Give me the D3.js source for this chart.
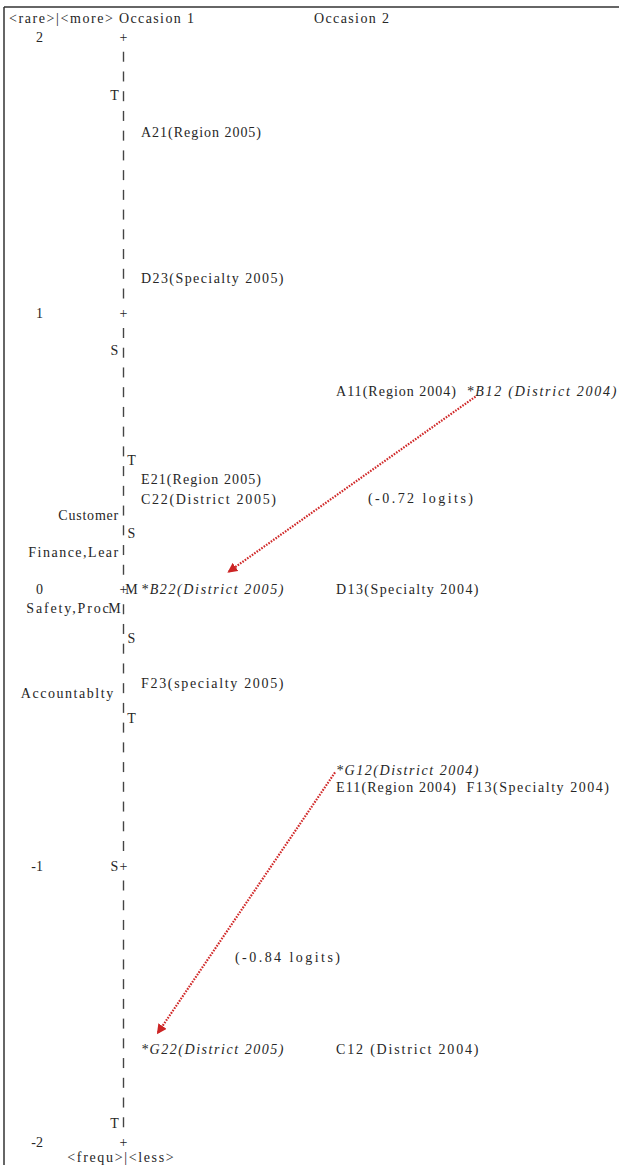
<!DOCTYPE html>
<html>
<head>
<meta charset="utf-8">
<script src="https://cdn.jsdelivr.net/npm/d3@7"></script>
<style>
  html, body { margin: 0; padding: 0; background: #fff; }
  svg { display: block; }
  text { font-family: "Liberation Serif", "Times New Roman", serif; font-size: 14px; fill: #262626; }
</style>
</head>
<body>
<svg id="map" width="619" height="1165"></svg>
<script>
// ---- Logit scale ----
const tickValues = [2, 1, 0, -1, -2];
const tickLabels = ["2", "1", "0", "-1", "-2"];
const rowsPerLogit = 14;

// ---- Occasions ----
const occasions = ["Occasion 1", "Occasion 2"];

// Occasion 1 (2005) items and their measures (logits)
const occasion1Labels = ["A21(Region 2005)", "D23(Specialty 2005)", "E21(Region 2005)", "C22(District 2005)",
                         "*B22(District 2005)", "F23(specialty 2005)", "*G22(District 2005)"];
const occasion1Measures = [1.654, 1.129, 0.398, 0.329, 0.0, -0.340, -1.662];

// Occasion 2 (2004) items and their measures (logits)
const occasion2Labels = ["A11(Region 2004)", "*B12 (District 2004)", "D13(Specialty 2004)", "*G12(District 2004)",
                         "E11(Region 2004)", "F13(Specialty 2004)", "C12 (District 2004)"];
const occasion2Measures = [0.72, 0.72, 0.0, -0.655, -0.717, -0.717, -1.662];

// Domains on the left of the ruler
const domainLabels = ["Customer", "Finance,Lear", "Safety,Proc", "Accountablty "];
const domainMeasures = [0.268, 0.134, -0.069, -0.376];

// Distribution markers (M = mean, S = 1 SD, T = 2 SD)
const leftMarkLabels = ["T", "S", "M", "S", "T"];
const leftMarkMeasures = [1.79, 0.865, -0.069, -1.0, -1.933];
const rightMarkLabels = ["T", "S", "M", "S", "T"];
const rightMarkMeasures = [0.467, 0.203, 0.0, -0.177, -0.467];

// Highlighted changes between occasions
const changeFrom = ["*B12 (District 2004)", "*G12(District 2004)"];
const changeTo = ["*B22(District 2005)", "*G22(District 2005)"];
const changeValues = [-0.72, -0.84];

// ---- Layout ----
const W = 619, H = 1165;
const CH = 7.5;                 // character pitch
const GAP = 1.4;                // gap between items sharing a row, in characters
const axisX = 123.5;
const leftMarkX = 114.5, rightMarkX = 131.5;
const y = d3.scaleLinear().domain([2, -2]).range([37, 1142]);
const xOcc = d3.scaleOrdinal().domain(occasions).range([141, 336]);
const changeLabelPos = [{ x: 368, v: 0.33 }, { x: 235, v: -1.332 }];
const arrowOffsets = [
  { dx0: 9, dy0: 6, dx1: 88, dy1: -18 },
  { dx0: -1, dy0: 2, dx1: 17, dy1: -16 }
];

const svg = d3.select("#map");

function mono(sel, str, pitch) {
  sel.text(str)
     .attr("textLength", str.length * (pitch || CH))
     .attr("lengthAdjust", "spacing");
  return sel;
}

// Frame (top and left rules)
svg.append("line").attr("x1", 4).attr("x2", W).attr("y1", 7).attr("y2", 7)
   .attr("stroke", "#333").attr("stroke-width", 1.5);
svg.append("line").attr("x1", 4).attr("x2", 4).attr("y1", 7).attr("y2", H)
   .attr("stroke", "#333").attr("stroke-width", 1.5);

// Headers
mono(svg.append("text").attr("x", 9).attr("y", 18).attr("dy", "0.35em"), "<rare>|<more>", 8);
occasions.forEach(o => {
  mono(svg.append("text").attr("x", xOcc(o) - 22).attr("y", 18).attr("dy", "0.35em"), o);
});
mono(svg.append("text").attr("x", axisX - 3).attr("y", 1157).attr("dy", "0.35em")
   .attr("text-anchor", "middle"), "<frequ>|<less>", 7.6);

// Ruler: one dash per row, "+" at whole logits
const nRows = (tickValues[0] - tickValues[tickValues.length - 1]) * rowsPerLogit;
const rows = d3.range(nRows + 1).map(i => tickValues[0] - i / rowsPerLogit)
  .filter((v, i) => i % rowsPerLogit !== 0);
svg.append("g").selectAll("line").data(rows).join("line")
  .attr("x1", axisX).attr("x2", axisX)
  .attr("y1", d => y(d) - 5).attr("y2", d => y(d) + 5)
  .attr("stroke", "#444").attr("stroke-width", 1.4);

const ticks = svg.append("g");
tickValues.forEach((v, i) => {
  ticks.append("text").attr("x", axisX).attr("y", y(v)).attr("dy", "0.35em")
    .attr("text-anchor", "middle").text("+");
  ticks.append("text").attr("x", 43).attr("y", y(v)).attr("dy", "0.35em")
    .attr("text-anchor", "end").text(tickLabels[i]);
});

// Distribution markers
leftMarkLabels.forEach((m, i) => {
  svg.append("text").attr("x", leftMarkX).attr("y", y(leftMarkMeasures[i])).attr("dy", "0.35em")
    .attr("text-anchor", "middle").text(m);
});
rightMarkLabels.forEach((m, i) => {
  svg.append("text").attr("x", rightMarkX).attr("y", y(rightMarkMeasures[i])).attr("dy", "0.35em")
    .attr("text-anchor", "middle").text(m);
});

// Domain labels, right-aligned against the ruler (or the marker on that row)
domainLabels.forEach((d, i) => {
  const v = domainMeasures[i];
  const hasMark = leftMarkMeasures.some(m => Math.abs(m - v) < 0.02);
  const xEnd = hasMark ? leftMarkX - CH / 2 - 2 : leftMarkX + CH / 2;
  mono(svg.append("text").attr("x", xEnd).attr("y", y(v)).attr("dy", "0.35em")
    .attr("text-anchor", "end").attr("xml:space", "preserve"), d);
});

// Items, flowed left-to-right when they share a row within an occasion
const itemPos = {};
function drawItems(occ, labels, measures) {
  const rowEnd = new Map();
  labels.forEach((lab, i) => {
    const v = measures[i];
    const key = v.toFixed(3);
    const x0 = rowEnd.has(key) ? rowEnd.get(key) : xOcc(occ);
    rowEnd.set(key, x0 + (lab.length + GAP) * CH);
    itemPos[lab] = { x: x0, y: y(v) };
    mono(svg.append("text").attr("x", x0).attr("y", y(v)).attr("dy", "0.35em")
      .attr("font-style", lab.startsWith("*") ? "italic" : "normal"), lab);
  });
}
drawItems(occasions[0], occasion1Labels, occasion1Measures);
drawItems(occasions[1], occasion2Labels, occasion2Measures);

// Change arrows between occasions
const defs = svg.append("defs");
defs.append("marker").attr("id", "head").attr("viewBox", "0 0 10 10")
  .attr("refX", 8).attr("refY", 5).attr("markerWidth", 4.5).attr("markerHeight", 4.5)
  .attr("orient", "auto").attr("markerUnits", "strokeWidth")
  .append("path").attr("d", "M0,0 L10,5 L0,10 z").attr("fill", "#cc2424");

changeFrom.forEach((f, i) => {
  const a = itemPos[f], b = itemPos[changeTo[i]], o = arrowOffsets[i];
  svg.append("line")
    .attr("x1", a.x + o.dx0).attr("y1", a.y + o.dy0)
    .attr("x2", b.x + o.dx1).attr("y2", b.y + o.dy1)
    .attr("stroke", "#d02828").attr("stroke-width", 2.2)
    .attr("stroke-dasharray", "1.6 1.3")
    .attr("marker-end", "url(#head)");
  const p = changeLabelPos[i];
  mono(svg.append("text").attr("x", p.x).attr("y", y(p.v)).attr("dy", "0.35em"),
    `(${changeValues[i].toFixed(2)} logits)`);
});
</script>
</body>
</html>
